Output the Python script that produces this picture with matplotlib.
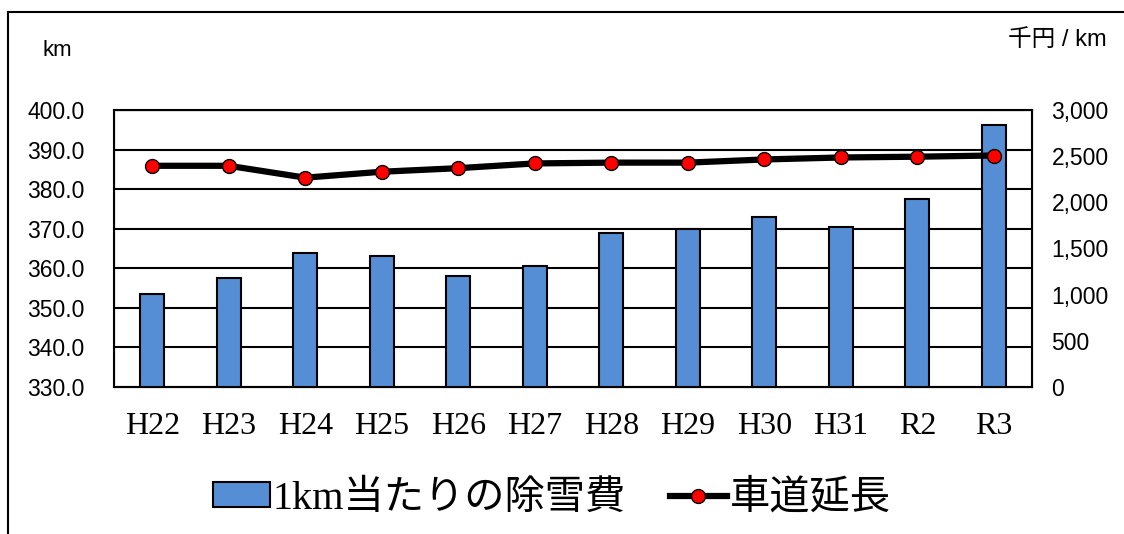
import matplotlib
matplotlib.use("Agg")
import matplotlib.pyplot as plt
from matplotlib.lines import Line2D
from matplotlib.ticker import FuncFormatter, MultipleLocator
import numpy as np

categories = ["H22", "H23", "H24", "H25", "H26", "H27", "H28", "H29", "H30", "H31", "R2", "R3"]
cost_per_km = [1007, 1184, 1455, 1419, 1202, 1310, 1671, 1708, 1838, 1736, 2033, 2834]
road_length = [385.9, 385.9, 382.9, 384.4, 385.3, 386.5, 386.7, 386.7, 387.5, 388.0, 388.2, 388.5]
bar_label = "1km当たりの除雪費"
line_label = "車道延長"
left_unit = "km"
right_unit = "千円 / km"

SANS = ["Liberation Sans", "Noto Sans CJK JP", "DejaVu Sans"]
SERIF = ["Liberation Serif", "Noto Sans CJK JP", "DejaVu Sans"]

fig = plt.figure(figsize=(11.24, 5.34), dpi=100)
ax = fig.add_axes([114/1124, 1-387/534, (1032-114)/1124, 277/534])
x = np.arange(len(categories))

# base axes: left scale + gridlines
ax.set_xlim(-0.5, len(categories)-0.5)
ax.set_ylim(330, 400)
ax.yaxis.set_major_locator(MultipleLocator(10))
ax.yaxis.set_major_formatter(FuncFormatter(lambda v, p: f"{v:.1f}"))
ax.grid(axis="y", color="black", linewidth=1.5)
ax.set_xticks(x)
ax.set_xticklabels(categories, family=SERIF, fontsize=23)
ax.tick_params(axis="x", length=0, pad=18)
ax.tick_params(axis="y", length=0, pad=21, labelsize=16.5)
for lab in ax.get_yticklabels():
    lab.set_family(SANS)
for s in ax.spines.values():
    s.set_linewidth(1.5)
    s.set_color("black")

# bars on right scale
ax2 = ax.twinx()
ax2.set_ylim(0, 3000)
ax2.yaxis.set_major_locator(MultipleLocator(500))
ax2.yaxis.set_major_formatter(FuncFormatter(lambda v, p: f"{int(v):,}"))
ax2.tick_params(axis="y", length=0, pad=14, labelsize=16.5)
for lab in ax2.get_yticklabels():
    lab.set_family(SANS)
bars = ax2.bar(x, cost_per_km, width=0.32, color="#558ED5", edgecolor="black",
               linewidth=1.5, label=bar_label, zorder=2)
ax2.patch.set_visible(False)

# line on left scale
ax3 = ax.twinx()
ax3.set_ylim(330, 400)
ax3.set_yticks([])
ax3.patch.set_visible(False)
for s in ax3.spines.values():
    s.set_visible(False)
line, = ax3.plot(x, road_length, color="black", linewidth=4.5, marker="o",
                 markersize=10, markerfacecolor="red", markeredgecolor="black",
                 markeredgewidth=1.0, label=line_label, zorder=3)

# unit labels
fig.text(57/1124, 1-50/534, left_unit, ha="center", va="center", fontsize=16, family=SANS)
fig.text(1057/1124, 1-40/534, right_unit, ha="center", va="center", fontsize=17, family=SANS)

# legend
leg = fig.legend([bars, line], [bar_label, line_label], loc="center",
                 bbox_to_anchor=(552/1124, 1-499/534), ncol=2, frameon=False,
                 prop={"family": SERIF, "size": 29}, handlelength=1.4,
                 handleheight=0.55, handletextpad=0.08, columnspacing=1.1)

# outer frame (left and top edges)
fig.add_artist(Line2D([8/1124, 8/1124], [0, 1-12/534], transform=fig.transFigure,
                      color="black", linewidth=1.5))
fig.add_artist(Line2D([8/1124, 1], [1-12/534, 1-12/534], transform=fig.transFigure,
                      color="black", linewidth=1.5))

fig.savefig("out.png", dpi=100, facecolor="white")
